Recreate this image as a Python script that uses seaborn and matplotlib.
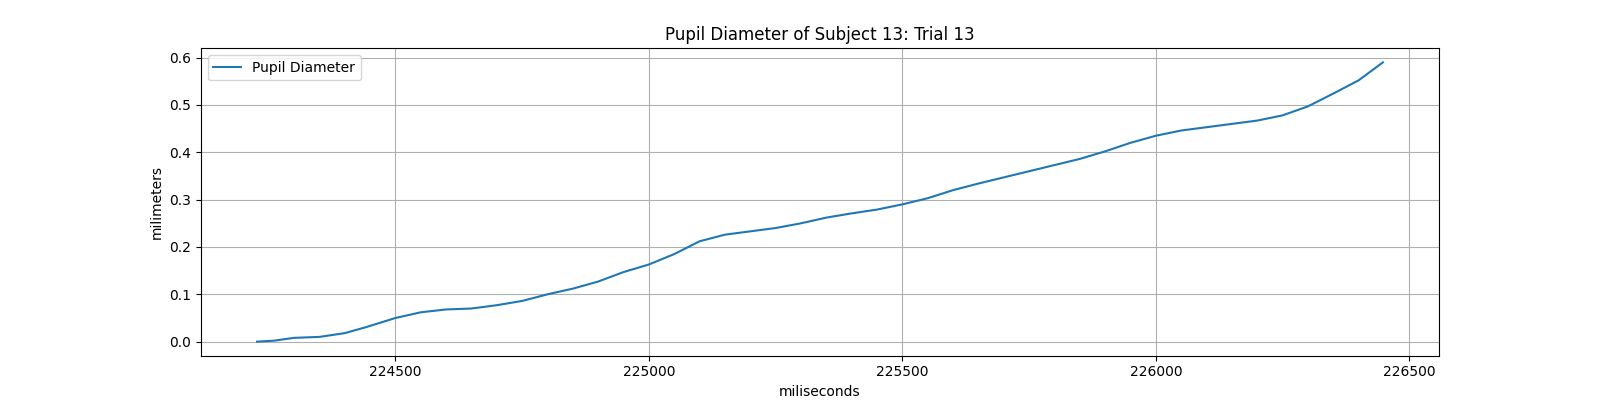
import matplotlib
matplotlib.use("Agg")
import matplotlib.pyplot as plt
import seaborn as sns
import pandas as pd

time_ms = [224227, 224260, 224300, 224350, 224400, 224440, 224500, 224550, 224600, 224650,
           224700, 224750, 224800, 224850, 224900, 224950, 225000, 225050, 225100, 225150,
           225200, 225250, 225300, 225350, 225400, 225450, 225500, 225550, 225600, 225650,
           225700, 225750, 225800, 225850, 225900, 225950, 226000, 226050, 226100, 226150,
           226200, 226250, 226300, 226350, 226400, 226448]
diameter = [0.0, 0.002, 0.008, 0.010, 0.018, 0.03, 0.05, 0.062, 0.068, 0.070,
            0.077, 0.086, 0.100, 0.112, 0.127, 0.147, 0.163, 0.185, 0.212, 0.226,
            0.233, 0.240, 0.250, 0.262, 0.271, 0.279, 0.290, 0.303, 0.320, 0.334,
            0.347, 0.360, 0.373, 0.386, 0.402, 0.420, 0.435, 0.446, 0.453, 0.460,
            0.467, 0.478, 0.497, 0.524, 0.552, 0.590]

df = pd.DataFrame({"t": time_ms, "d": diameter})
fig = plt.figure(figsize=(16, 4), dpi=100)
ax = fig.add_axes([0.1255, 0.111, 0.774, 0.768])
sns.lineplot(data=df, x="t", y="d", ax=ax, label="Pupil Diameter", color="#1f77b4")
ax.grid(True)
ax.set_xticks([224500, 225000, 225500, 226000, 226500])
ax.set_xlabel("miliseconds")
ax.set_ylabel("milimeters")
ax.set_title("Pupil Diameter of Subject 13: Trial 13")
ax.legend(loc="upper left")
fig.savefig("out.png")
